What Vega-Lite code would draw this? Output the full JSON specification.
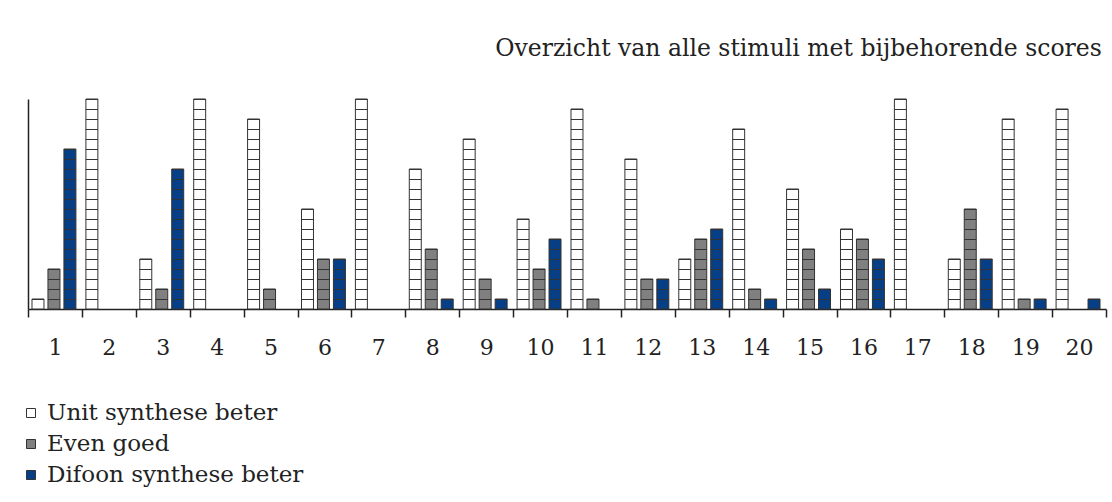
{
  "$schema": "https://vega.github.io/schema/vega-lite/v6.json",
  "width": 1078,
  "height": 210,
  "autosize": {"type": "none"},
  "padding": {"left": 28, "top": 99, "right": 6, "bottom": 193},
  "background": "white",
  "title": {
    "text": "Overzicht van alle stimuli met bijbehorende scores",
    "anchor": "end",
    "orient": "top",
    "font": "DejaVu Serif",
    "fontSize": 23.5,
    "fontWeight": "normal",
    "color": "#222222",
    "offset": 33,
    "dx": -5
  },
  "config": {
    "view": {"stroke": null},
    "axis": {"grid": false}
  },
  "data": {
    "values": [
      {"stimulus": 1, "oordeel": "Unit synthese beter", "score": 1},
      {"stimulus": 1, "oordeel": "Even goed", "score": 4},
      {"stimulus": 1, "oordeel": "Difoon synthese beter", "score": 16},
      {"stimulus": 2, "oordeel": "Unit synthese beter", "score": 21},
      {"stimulus": 2, "oordeel": "Even goed", "score": 0},
      {"stimulus": 2, "oordeel": "Difoon synthese beter", "score": 0},
      {"stimulus": 3, "oordeel": "Unit synthese beter", "score": 5},
      {"stimulus": 3, "oordeel": "Even goed", "score": 2},
      {"stimulus": 3, "oordeel": "Difoon synthese beter", "score": 14},
      {"stimulus": 4, "oordeel": "Unit synthese beter", "score": 21},
      {"stimulus": 4, "oordeel": "Even goed", "score": 0},
      {"stimulus": 4, "oordeel": "Difoon synthese beter", "score": 0},
      {"stimulus": 5, "oordeel": "Unit synthese beter", "score": 19},
      {"stimulus": 5, "oordeel": "Even goed", "score": 2},
      {"stimulus": 5, "oordeel": "Difoon synthese beter", "score": 0},
      {"stimulus": 6, "oordeel": "Unit synthese beter", "score": 10},
      {"stimulus": 6, "oordeel": "Even goed", "score": 5},
      {"stimulus": 6, "oordeel": "Difoon synthese beter", "score": 5},
      {"stimulus": 7, "oordeel": "Unit synthese beter", "score": 21},
      {"stimulus": 7, "oordeel": "Even goed", "score": 0},
      {"stimulus": 7, "oordeel": "Difoon synthese beter", "score": 0},
      {"stimulus": 8, "oordeel": "Unit synthese beter", "score": 14},
      {"stimulus": 8, "oordeel": "Even goed", "score": 6},
      {"stimulus": 8, "oordeel": "Difoon synthese beter", "score": 1},
      {"stimulus": 9, "oordeel": "Unit synthese beter", "score": 17},
      {"stimulus": 9, "oordeel": "Even goed", "score": 3},
      {"stimulus": 9, "oordeel": "Difoon synthese beter", "score": 1},
      {"stimulus": 10, "oordeel": "Unit synthese beter", "score": 9},
      {"stimulus": 10, "oordeel": "Even goed", "score": 4},
      {"stimulus": 10, "oordeel": "Difoon synthese beter", "score": 7},
      {"stimulus": 11, "oordeel": "Unit synthese beter", "score": 20},
      {"stimulus": 11, "oordeel": "Even goed", "score": 1},
      {"stimulus": 11, "oordeel": "Difoon synthese beter", "score": 0},
      {"stimulus": 12, "oordeel": "Unit synthese beter", "score": 15},
      {"stimulus": 12, "oordeel": "Even goed", "score": 3},
      {"stimulus": 12, "oordeel": "Difoon synthese beter", "score": 3},
      {"stimulus": 13, "oordeel": "Unit synthese beter", "score": 5},
      {"stimulus": 13, "oordeel": "Even goed", "score": 7},
      {"stimulus": 13, "oordeel": "Difoon synthese beter", "score": 8},
      {"stimulus": 14, "oordeel": "Unit synthese beter", "score": 18},
      {"stimulus": 14, "oordeel": "Even goed", "score": 2},
      {"stimulus": 14, "oordeel": "Difoon synthese beter", "score": 1},
      {"stimulus": 15, "oordeel": "Unit synthese beter", "score": 12},
      {"stimulus": 15, "oordeel": "Even goed", "score": 6},
      {"stimulus": 15, "oordeel": "Difoon synthese beter", "score": 2},
      {"stimulus": 16, "oordeel": "Unit synthese beter", "score": 8},
      {"stimulus": 16, "oordeel": "Even goed", "score": 7},
      {"stimulus": 16, "oordeel": "Difoon synthese beter", "score": 5},
      {"stimulus": 17, "oordeel": "Unit synthese beter", "score": 21},
      {"stimulus": 17, "oordeel": "Even goed", "score": 0},
      {"stimulus": 17, "oordeel": "Difoon synthese beter", "score": 0},
      {"stimulus": 18, "oordeel": "Unit synthese beter", "score": 5},
      {"stimulus": 18, "oordeel": "Even goed", "score": 10},
      {"stimulus": 18, "oordeel": "Difoon synthese beter", "score": 5},
      {"stimulus": 19, "oordeel": "Unit synthese beter", "score": 19},
      {"stimulus": 19, "oordeel": "Even goed", "score": 1},
      {"stimulus": 19, "oordeel": "Difoon synthese beter", "score": 1},
      {"stimulus": 20, "oordeel": "Unit synthese beter", "score": 20},
      {"stimulus": 20, "oordeel": "Even goed", "score": 0},
      {"stimulus": 20, "oordeel": "Difoon synthese beter", "score": 1}
    ]
  },
  "transform": [{"filter": "datum.score > 0"}],
  "encoding": {
    "x": {
      "field": "stimulus",
      "type": "ordinal",
      "scale": {"paddingInner": 0, "paddingOuter": 0},
      "axis": {
        "title": null,
        "labelAngle": 0,
        "tickBand": "extent",
        "tickSize": 8,
        "tickColor": "#222222",
        "domainColor": "#222222",
        "domainWidth": 1.5,
        "tickWidth": 1.5,
        "labelPadding": 20,
        "labelFont": "DejaVu Serif",
        "labelFontSize": 22,
        "labelColor": "#222222"
      }
    },
    "xOffset": {
      "field": "oordeel",
      "type": "nominal",
      "sort": ["Unit synthese beter", "Even goed", "Difoon synthese beter"],
      "scale": {"paddingInner": 0.25, "paddingOuter": 0.3125, "align": 0.4}
    },
    "y": {
      "field": "score",
      "type": "quantitative",
      "scale": {"domain": [0, 21], "nice": false},
      "axis": {
        "title": null,
        "labels": false,
        "ticks": false,
        "domainColor": "#222222",
        "domainWidth": 1.5
      }
    }
  },
  "layer": [
    {
      "mark": {"type": "bar", "stroke": "#333333", "strokeWidth": 1},
      "encoding": {
        "fill": {
          "field": "oordeel",
          "type": "nominal",
          "scale": {
            "domain": ["Unit synthese beter", "Even goed", "Difoon synthese beter"],
            "range": ["#ffffff", "#808080", "#063f86"]
          },
          "legend": {
            "title": null,
            "orient": "none",
            "legendX": -8.5,
            "legendY": 302.5,
            "direction": "vertical",
            "padding": 0,
            "symbolType": "square",
            "symbolSize": 81,
            "symbolStrokeColor": "#333333",
            "symbolStrokeWidth": 1,
            "labelFont": "DejaVu Serif",
            "labelFontSize": 23,
            "labelColor": "#222222",
            "labelLimit": 500,
            "labelOffset": 4.5,
            "rowPadding": 7
          }
        }
      }
    },
    {
      "mark": {"type": "rule", "color": "#333333", "strokeWidth": 12, "strokeDash": [1, 9], "strokeCap": "butt"},
      "encoding": {
        "y2": {"datum": 0}
      }
    }
  ]
}
